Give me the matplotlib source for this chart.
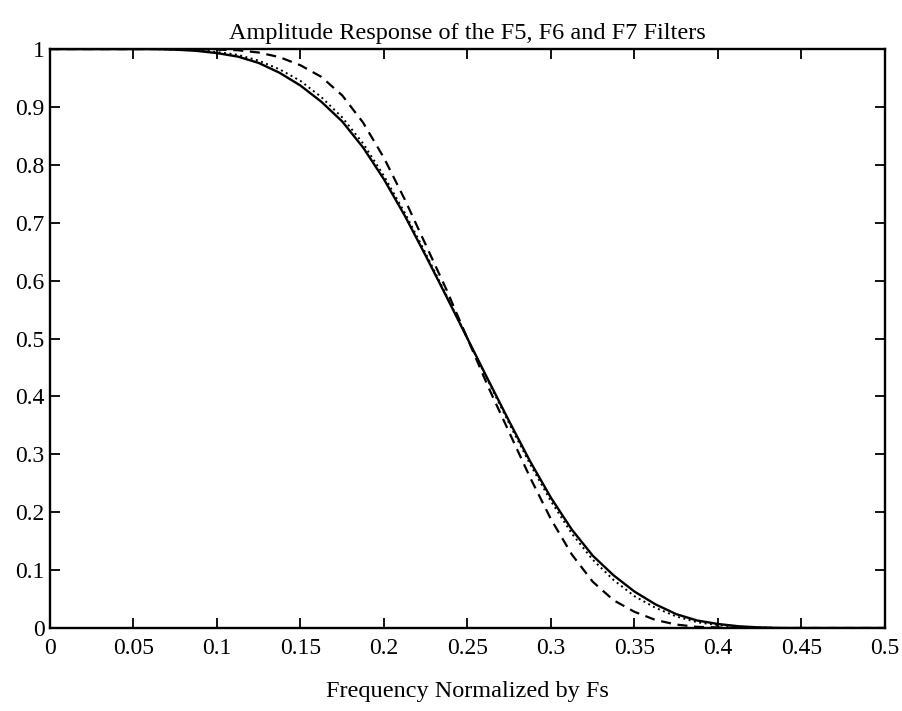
import matplotlib
matplotlib.use("Agg")
import matplotlib.pyplot as plt
import numpy as np
from matplotlib.ticker import FuncFormatter

# frequency grid (normalized by Fs), step 0.0125
freq = [0.0, 0.0125, 0.025, 0.0375, 0.05, 0.0625, 0.075, 0.0875, 0.1, 0.1125,
        0.125, 0.1375, 0.15, 0.1625, 0.175, 0.1875, 0.2, 0.2125, 0.225, 0.2375,
        0.25, 0.2625, 0.275, 0.2875, 0.3, 0.3125, 0.325, 0.3375, 0.35, 0.3625,
        0.375, 0.3875, 0.4, 0.4125, 0.425, 0.4375, 0.45, 0.4625, 0.475, 0.4875, 0.5]

f5 = [1.0, 1.0, 1.0, 1.0, 1.0, 1.0, 0.999, 0.997, 0.993, 0.987,
      0.976, 0.959, 0.937, 0.909, 0.875, 0.830, 0.775, 0.712, 0.643, 0.572,
      0.5, 0.428, 0.357, 0.288, 0.225, 0.170, 0.125, 0.091, 0.063, 0.041,
      0.024, 0.013, 0.007, 0.003, 0.001, 0.0, 0.0, 0.0, 0.0, 0.0, 0.0]

f6 = [1.0, 1.0, 1.0, 1.0, 1.0, 1.0, 0.999, 0.998, 0.995, 0.990,
      0.980, 0.965, 0.945, 0.917, 0.882, 0.837, 0.781, 0.717, 0.647, 0.574,
      0.5, 0.426, 0.353, 0.283, 0.219, 0.163, 0.118, 0.083, 0.055, 0.035,
      0.020, 0.010, 0.005, 0.002, 0.001, 0.0, 0.0, 0.0, 0.0, 0.0, 0.0]

f7 = [1.0, 1.0, 1.0, 1.0, 1.0, 1.0, 1.0, 1.0, 0.999, 0.998,
      0.994, 0.986, 0.972, 0.952, 0.920, 0.873, 0.812, 0.740, 0.662, 0.584,
      0.5, 0.416, 0.338, 0.260, 0.188, 0.127, 0.080, 0.048, 0.028, 0.014,
      0.006, 0.002, 0.001, 0.0, 0.0, 0.0, 0.0, 0.0, 0.0, 0.0, 0.0]

xticks = [0, 0.05, 0.1, 0.15, 0.2, 0.25, 0.3, 0.35, 0.4, 0.45, 0.5]
yticks = [0, 0.1, 0.2, 0.3, 0.4, 0.5, 0.6, 0.7, 0.8, 0.9, 1]

plt.rcParams['font.family'] = ['Liberation Serif', 'DejaVu Serif']

fig = plt.figure(figsize=(9.02, 7.11), dpi=100)
ax = fig.add_axes([0.0554, 0.1167, 0.9257, 0.8143])

ax.plot(freq, f5, color='black', linewidth=1.7, linestyle='-')
ax.plot(freq, f6, color='black', linewidth=1.4, linestyle=(0, (1, 1.8)))
ax.plot(freq, f7, color='black', linewidth=1.6, linestyle=(0, (4.5, 3)))

ax.set_xlim(0, 0.5)
ax.set_ylim(0, 1)
ax.set_xticks(xticks)
ax.set_yticks(yticks)
ax.xaxis.set_major_formatter(FuncFormatter(lambda v, p: '%g' % v))
ax.yaxis.set_major_formatter(FuncFormatter(lambda v, p: '%g' % v))
ax.tick_params(direction='in', length=7, width=1.3, top=True, right=True,
               labelsize=17)
ax.tick_params(axis='x', pad=7)
ax.tick_params(axis='y', pad=4)
for s in ax.spines.values():
    s.set_linewidth(1.7)

ax.set_title('Amplitude Response of the F5, F6 and F7 Filters', fontsize=17.5, pad=7)
ax.set_xlabel('Frequency Normalized by Fs', fontsize=17.5, labelpad=16)

plt.savefig('out.png', dpi=100)
plt.close()
